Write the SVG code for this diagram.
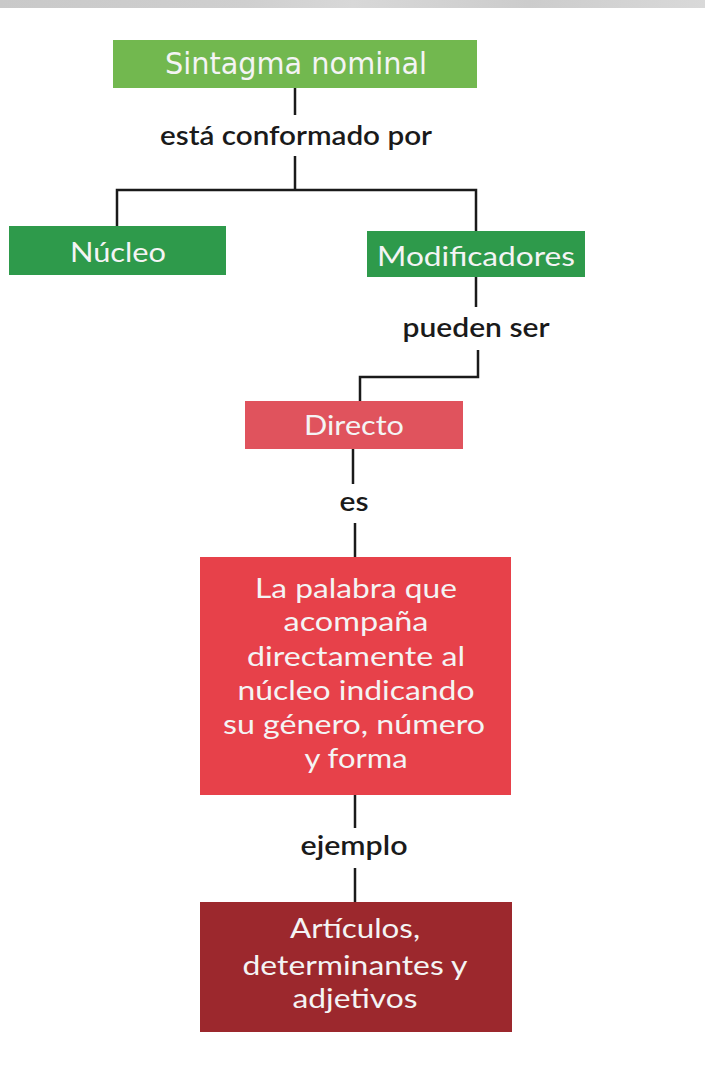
<svg xmlns="http://www.w3.org/2000/svg" width="705" height="1071" viewBox="0 0 705 1071">
<defs>
<linearGradient id="band" x1="0" y1="0" x2="1" y2="0">
<stop offset="0" stop-color="#c9c9c9"/>
<stop offset="0.35" stop-color="#cfcfcf"/>
<stop offset="0.5" stop-color="#d8d8d8"/>
<stop offset="0.75" stop-color="#cccccc"/>
<stop offset="1" stop-color="#d9d9d9"/>
</linearGradient>
<style>
.box text{font-family:Lato,"Liberation Sans",sans-serif;fill:#f4f4f4;text-anchor:middle;font-size:27px}
.box text.cond{font-family:"DejaVu Sans Condensed","DejaVu Sans",sans-serif;font-stretch:condensed;font-size:31px}
.lbl{font-family:Lato,"Liberation Sans",sans-serif;fill:#1a1a1a;text-anchor:middle;font-size:26px;font-weight:600}
.ln{stroke:#1a1a1a;stroke-width:2.5;fill:none}
</style>
</defs>
<rect x="0" y="0" width="705" height="1071" fill="#ffffff"/>
<rect x="0" y="0" width="705" height="8" fill="url(#band)"/>

<g id="connectors">
<polyline class="ln" points="295,87 295,115" stroke="#444"/>
<polyline class="ln" points="295,156 295,190"/>
<polyline class="ln" points="117,228 117,190 476,190 476,233"/>
<polyline class="ln" points="476,277 476,307"/>
<polyline class="ln" points="478,350 478,377 360,377 360,401"/>
<polyline class="ln" points="353,449 353,484"/>
<polyline class="ln" points="355,523 355,557"/>
<polyline class="ln" points="355,795 355,828"/>
<polyline class="ln" points="355,868 355,902"/>
<text class="lbl" x="296" y="145" textLength="272" lengthAdjust="spacingAndGlyphs">está conformado por</text>
<text class="lbl" x="476" y="337" textLength="147" lengthAdjust="spacingAndGlyphs">pueden ser</text>
<text class="lbl" x="354" y="511" textLength="29" lengthAdjust="spacingAndGlyphs">es</text>
<text class="lbl" x="354" y="855" textLength="107" lengthAdjust="spacingAndGlyphs">ejemplo</text>
</g>

<g id="sintagma" class="box">
<rect x="113" y="40" width="364" height="48" fill="#72b84f"/>
<text class="cond" x="296" y="74" textLength="262" lengthAdjust="spacingAndGlyphs">Sintagma nominal</text>
</g>

<g id="nucleo" class="box">
<rect x="9" y="226" width="217" height="49" fill="#2e9a4b"/>
<text x="118" y="262" textLength="96" lengthAdjust="spacingAndGlyphs">Núcleo</text>
</g>

<g id="modificadores" class="box">
<rect x="367" y="231" width="218" height="46" fill="#2e9a4b"/>
<text x="476" y="266" textLength="198" lengthAdjust="spacingAndGlyphs">Modificadores</text>
</g>

<g id="directo" class="box">
<rect x="245" y="401" width="218" height="48" fill="#e0535d"/>
<text x="354" y="435" textLength="100" lengthAdjust="spacingAndGlyphs">Directo</text>
</g>

<g id="definicion" class="box">
<rect x="200" y="557" width="311" height="238" fill="#e7414a"/>
<text x="356" y="598" textLength="202" lengthAdjust="spacingAndGlyphs">La palabra que</text>
<text x="356" y="631" textLength="145" lengthAdjust="spacingAndGlyphs">acompaña</text>
<text x="356" y="666" textLength="218" lengthAdjust="spacingAndGlyphs">directamente al</text>
<text x="356" y="700" textLength="237" lengthAdjust="spacingAndGlyphs">núcleo indicando</text>
<text x="354" y="734" textLength="262" lengthAdjust="spacingAndGlyphs">su género, número</text>
<text x="356" y="768" textLength="103" lengthAdjust="spacingAndGlyphs">y forma</text>
</g>

<g id="ejemplos" class="box">
<rect x="200" y="902" width="312" height="130" fill="#9c282d"/>
<text x="355" y="938" textLength="130" lengthAdjust="spacingAndGlyphs">Artículos,</text>
<text x="355" y="975" textLength="225" lengthAdjust="spacingAndGlyphs">determinantes y</text>
<text x="355" y="1008" textLength="125" lengthAdjust="spacingAndGlyphs">adjetivos</text>
</g>
</svg>
